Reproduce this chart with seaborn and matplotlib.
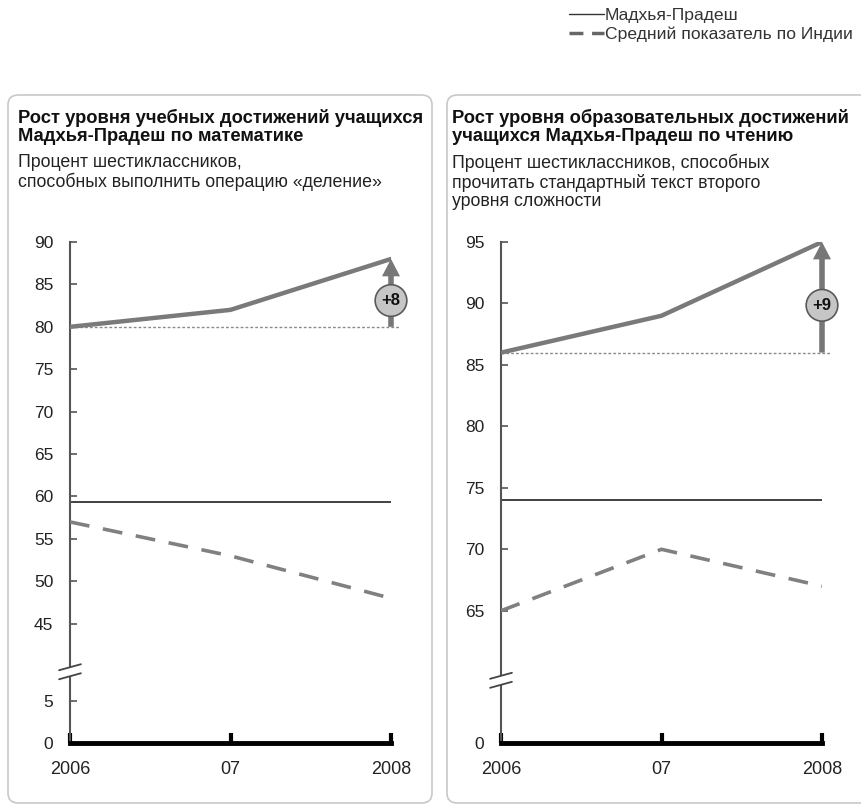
import numpy as np
import pandas as pd
import seaborn as sns
import matplotlib.pyplot as plt
from matplotlib.lines import Line2D
from matplotlib.patches import FancyBboxPatch

# data
years = [2006, 2007, 2008]
year_labels = ["2006", "07", "2008"]
math_mp = [80, 82, 88]
math_india = [57, 53, 48]
read_mp = [86, 89, 95]
read_india = [65, 70, 67]
math_ticks = [0, 5, 45, 50, 55, 60, 65, 70, 75, 80, 85, 90]
read_ticks = [0, 65, 70, 75, 80, 85, 90, 95]
math_sep = 59.4
read_sep = 74
gains = ["+8", "+9"]
legend_labels = ["Мадхья-Прадеш", "Средний показатель по Индии"]
titles = ["Рост уровня учебных достижений учащихся\nМадхья-Прадеш по математике",
          "Рост уровня образовательных достижений\nучащихся Мадхья-Прадеш по чтению"]
subtitles = ["Процент шестиклассников,\nспособных выполнить операцию «деление»",
             "Процент шестиклассников, способных\nпрочитать стандартный текст второго\nуровня сложности"]

sns.set_style("white")
plt.rcParams["font.family"] = ["Liberation Sans", "DejaVu Sans"]

W, H = 862, 807
fig = plt.figure(figsize=(W / 100, H / 100), dpi=100)


def broken(lo, hi, k=0.002):
    # squeeze the (lo, hi) gap of the axis to almost nothing
    m = lo + (hi - lo) * k

    def fwd(v):
        v = np.asarray(v, float)
        return np.where(v <= lo, v, np.where(v >= hi, m + (v - hi), lo + (v - lo) * k))

    def inv(u):
        u = np.asarray(u, float)
        return np.where(u <= lo, u, np.where(u >= m, u - m + hi, lo + (u - lo) / k))
    return fwd, inv


def panel(left_px, mp, india, ticks, top, lo, hi, sep, gain, circle_y):
    ax = fig.add_axes([left_px / W, 1 - 743 / H, 321 / W, 501 / H])
    fwd, inv = broken(lo, hi)
    ax.set_yscale("function", functions=(fwd, inv))

    ax.hlines(mp[0], years[0], years[-1] + 0.05, color="#8a8a8a", lw=1, ls=(0, (2, 1.5)),
              clip_on=False, zorder=2)
    ax.hlines(sep, years[0], years[-1], color="#333333", lw=1.3, zorder=2)
    sns.lineplot(x=years, y=india, ax=ax, color="#808080", lw=2.6, dashes=False,
                 linestyle=(0, (5.5, 3.8)), zorder=3)
    sns.lineplot(x=years, y=mp, ax=ax, color="#7a7a7a", lw=3.2, zorder=4)

    ax.annotate("", xy=(years[-1], mp[-1]), xytext=(years[-1], mp[0]),
                arrowprops=dict(arrowstyle="simple,head_length=1.25,head_width=1.3,tail_width=0.4",
                                color="#777777", lw=0, shrinkA=0, shrinkB=0, mutation_scale=10),
                zorder=5)
    ax.text(years[-1], circle_y, gain, ha="center", va="center", fontsize=12,
            fontweight="bold", color="#111111", zorder=6,
            bbox=dict(boxstyle="circle,pad=0.38", fc="#c6c6c6", ec="#5a5a5a", lw=1.2))

    ax.set_xlim(years[0], years[-1])
    ax.set_ylim(0, top)
    ax.set_xticks(years)
    ax.set_xticklabels(year_labels)
    ax.set_yticks(ticks)
    ax.set_yticklabels([str(t) for t in ticks])
    ax.yaxis.set_minor_locator(plt.NullLocator())
    ax.set_xlabel("")
    ax.set_ylabel("")

    for s in ["top", "right"]:
        ax.spines[s].set_visible(False)
    ax.spines["left"].set_color("#555555")
    ax.spines["left"].set_linewidth(1.5)
    ax.spines["bottom"].set_color("black")
    ax.spines["bottom"].set_linewidth(3.5)
    ax.spines["bottom"].set_zorder(7)
    ax.tick_params(axis="y", left=True, direction="in", length=5, width=1.2, color="#555555",
                   labelsize=12.5, labelcolor="#222222", pad=12)
    ax.tick_params(axis="x", bottom=True, direction="in", length=7, width=3, color="black",
                   labelsize=13, labelcolor="#222222", pad=13)
    ax.set_facecolor("none")

    # axis break marks
    yf = float(fwd(lo) / fwd(top))
    ax.plot([0, 0], [yf - 0.009, yf + 0.009], transform=ax.transAxes, color="white",
            lw=3, clip_on=False, zorder=8, solid_capstyle="butt")
    for d in (-0.009, 0.009):
        ax.plot([-0.034, 0.034], [yf + d - 0.006, yf + d + 0.006], transform=ax.transAxes,
                color="#444444", lw=1.3, clip_on=False, zorder=9)
    return ax


panel(70, math_mp, math_india, math_ticks, 90, 8.4, 39.4, math_sep, gains[0], 83.1)
panel(501, read_mp, read_india, read_ticks, 95, 5.1, 59.45, read_sep, gains[1], 89.85)

# rounded frames
for x0, x1 in [(8, 432), (447, 890)]:
    fig.patches.append(FancyBboxPatch((x0 / W, 1 - 803 / H), (x1 - x0) / W, 708 / H,
                                      boxstyle="round,pad=0,rounding_size=0.012",
                                      transform=fig.transFigure, fc="none", ec="#c8c8c8",
                                      lw=1.2, zorder=0))

for x, t, s in [(18, titles[0], subtitles[0]), (452, titles[1], subtitles[1])]:
    fig.text(x / W, 1 - 109 / H, t, fontsize=13.2, fontweight="bold", color="#111111",
             va="top", linespacing=1.05)
    fig.text(x / W, 1 - 154 / H, s, fontsize=12.8, color="#222222", va="top", linespacing=1.1)

handles = [Line2D([], [], color="#333333", lw=1),
           Line2D([], [], color="#666666", lw=2.5, ls=(0, (4, 2.5)))]
fig.legend(handles, legend_labels, loc="upper left", bbox_to_anchor=(560 / W, 1 + 1 / H),
           frameon=False, fontsize=12.6, handlelength=2.0, handletextpad=0.05,
           labelspacing=0.2, borderpad=0, labelcolor="#333333")

fig.savefig("out.png", dpi=100)
